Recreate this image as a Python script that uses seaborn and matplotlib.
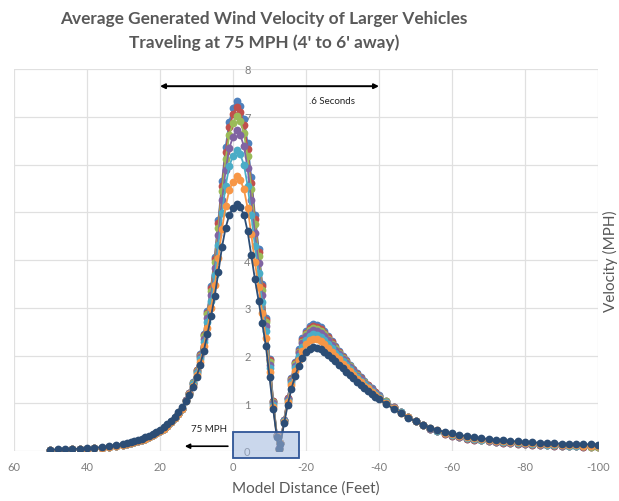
import matplotlib
matplotlib.use("Agg")
import matplotlib.pyplot as plt
import seaborn as sns
import pandas as pd
from matplotlib.patches import Rectangle

# ---------------- data ----------------
distance = (list(range(50, 31, -2)) + list(range(30, -13, -1)) + [-12.5]
            + list(range(-13, -41, -1)) + list(range(-42, -101, -2)))

s1 = [0.02, 0.025, 0.03, 0.035, 0.04, 0.05, 0.06, 0.07, 0.09, 0.11,
      0.12, 0.14, 0.16, 0.18, 0.20, 0.23, 0.26, 0.29, 0.33, 0.37, 0.42, 0.47, 0.53, 0.60, 0.69, 0.78, 0.89,
      1.06, 1.22, 1.44, 1.70, 2.04, 2.45, 2.93, 3.45, 4.07, 4.84, 5.65, 6.37,
      6.90, 7.18, 7.34, 7.23, 6.95, 6.44, 5.73, 4.95, 4.24, 3.50, 2.79, 1.92, 1.05, 0.34, 0.06,
      0.17, 0.65, 1.12, 1.52, 1.86, 2.13, 2.36, 2.52, 2.62, 2.66, 2.64, 2.59, 2.51, 2.41, 2.31, 2.20, 2.10, 1.99,
      1.90, 1.81, 1.72, 1.63, 1.54, 1.46, 1.39, 1.31, 1.24, 1.17,
      1.05, 0.93, 0.82, 0.72, 0.62, 0.54, 0.47, 0.41, 0.36, 0.32, 0.29, 0.26, 0.24, 0.22, 0.20,
      0.18, 0.17, 0.16, 0.15, 0.14, 0.13, 0.125, 0.12, 0.11, 0.105, 0.10, 0.095, 0.09, 0.09, 0.085]

s2 = [0.02, 0.025, 0.03, 0.035, 0.04, 0.05, 0.06, 0.07, 0.09, 0.11,
      0.12, 0.14, 0.16, 0.18, 0.20, 0.23, 0.26, 0.29, 0.33, 0.37, 0.42, 0.47, 0.53, 0.60, 0.69, 0.78, 0.89,
      1.06, 1.22, 1.43, 1.69, 2.02, 2.42, 2.90, 3.41, 4.02, 4.77, 5.56, 6.26,
      6.78, 7.05, 7.20, 7.09, 6.82, 6.33, 5.62, 4.86, 4.17, 3.45, 2.75, 1.90, 1.04, 0.34, 0.07,
      0.17, 0.65, 1.11, 1.50, 1.84, 2.10, 2.32, 2.48, 2.58, 2.62, 2.60, 2.55, 2.47, 2.38, 2.28, 2.18, 2.08, 1.97,
      1.88, 1.79, 1.70, 1.61, 1.52, 1.45, 1.38, 1.30, 1.23, 1.16,
      1.04, 0.92, 0.82, 0.72, 0.62, 0.54, 0.47, 0.41, 0.36, 0.32, 0.29, 0.26, 0.24, 0.22, 0.20,
      0.18, 0.17, 0.16, 0.15, 0.14, 0.13, 0.125, 0.12, 0.11, 0.105, 0.10, 0.095, 0.09, 0.085, 0.08]

s3 = [0.02, 0.025, 0.03, 0.035, 0.04, 0.05, 0.06, 0.07, 0.09, 0.11,
      0.12, 0.14, 0.16, 0.18, 0.20, 0.23, 0.26, 0.29, 0.33, 0.37, 0.42, 0.47, 0.53, 0.60, 0.69, 0.78, 0.89,
      1.06, 1.22, 1.42, 1.68, 2.00, 2.40, 2.86, 3.36, 3.95, 4.68, 5.45, 6.12,
      6.62, 6.87, 7.02, 6.91, 6.65, 6.17, 5.49, 4.75, 4.08, 3.38, 2.70, 1.86, 1.03, 0.34, 0.05,
      0.17, 0.64, 1.09, 1.48, 1.82, 2.08, 2.29, 2.45, 2.54, 2.58, 2.56, 2.51, 2.44, 2.35, 2.25, 2.15, 2.06, 1.95,
      1.86, 1.77, 1.68, 1.60, 1.51, 1.44, 1.37, 1.29, 1.22, 1.15,
      1.04, 0.92, 0.81, 0.72, 0.62, 0.54, 0.47, 0.41, 0.37, 0.33, 0.30, 0.27, 0.25, 0.23, 0.21,
      0.19, 0.18, 0.17, 0.16, 0.15, 0.14, 0.13, 0.125, 0.12, 0.11, 0.105, 0.10, 0.095, 0.09, 0.09]

s4 = [0.02, 0.025, 0.03, 0.035, 0.04, 0.05, 0.06, 0.07, 0.09, 0.11,
      0.12, 0.14, 0.16, 0.18, 0.20, 0.23, 0.26, 0.29, 0.33, 0.37, 0.42, 0.47, 0.53, 0.60, 0.69, 0.78, 0.89,
      1.06, 1.21, 1.41, 1.66, 1.97, 2.35, 2.79, 3.27, 3.84, 4.53, 5.26, 5.89,
      6.35, 6.58, 6.72, 6.62, 6.38, 5.92, 5.26, 4.56, 3.93, 3.27, 2.62, 1.81, 1.00, 0.33, 0.06,
      0.17, 0.64, 1.08, 1.47, 1.79, 2.05, 2.26, 2.41, 2.50, 2.54, 2.52, 2.47, 2.40, 2.32, 2.22, 2.12, 2.03, 1.93,
      1.84, 1.75, 1.67, 1.58, 1.50, 1.43, 1.36, 1.29, 1.21, 1.15,
      1.03, 0.92, 0.81, 0.72, 0.62, 0.54, 0.47, 0.42, 0.37, 0.33, 0.30, 0.27, 0.25, 0.23, 0.21,
      0.19, 0.18, 0.17, 0.16, 0.15, 0.14, 0.135, 0.13, 0.12, 0.115, 0.11, 0.105, 0.10, 0.10, 0.095]

s5 = [0.02, 0.025, 0.03, 0.035, 0.04, 0.05, 0.06, 0.07, 0.09, 0.11,
      0.12, 0.14, 0.16, 0.18, 0.20, 0.23, 0.26, 0.29, 0.33, 0.37, 0.42, 0.47, 0.53, 0.60, 0.69, 0.78, 0.89,
      1.05, 1.20, 1.40, 1.63, 1.92, 2.28, 2.70, 3.15, 3.68, 4.32, 4.99, 5.56,
      5.97, 6.18, 6.30, 6.21, 5.99, 5.56, 4.95, 4.30, 3.72, 3.11, 2.51, 1.74, 0.97, 0.32, 0.05,
      0.16, 0.62, 1.05, 1.43, 1.74, 1.98, 2.18, 2.33, 2.41, 2.45, 2.43, 2.39, 2.32, 2.24, 2.15, 2.06, 1.98, 1.88,
      1.80, 1.71, 1.63, 1.55, 1.47, 1.40, 1.33, 1.26, 1.20, 1.13,
      1.02, 0.91, 0.81, 0.71, 0.62, 0.54, 0.48, 0.42, 0.38, 0.34, 0.31, 0.28, 0.26, 0.24, 0.22,
      0.20, 0.19, 0.18, 0.17, 0.16, 0.15, 0.14, 0.135, 0.13, 0.12, 0.115, 0.11, 0.105, 0.105, 0.10]

s6 = [0.02, 0.025, 0.03, 0.035, 0.04, 0.05, 0.06, 0.07, 0.09, 0.11,
      0.12, 0.14, 0.16, 0.18, 0.20, 0.23, 0.26, 0.29, 0.33, 0.37, 0.42, 0.47, 0.53, 0.60, 0.69, 0.78, 0.89,
      1.05, 1.19, 1.37, 1.59, 1.86, 2.19, 2.58, 2.99, 3.47, 4.04, 4.65, 5.13,
      5.47, 5.64, 5.75, 5.67, 5.48, 5.09, 4.54, 3.96, 3.44, 2.90, 2.36, 1.65, 0.93, 0.31, 0.02,
      0.16, 0.61, 1.02, 1.38, 1.68, 1.91, 2.10, 2.24, 2.32, 2.35, 2.34, 2.30, 2.24, 2.16, 2.08, 2.00, 1.92, 1.83,
      1.75, 1.67, 1.59, 1.51, 1.44, 1.37, 1.31, 1.24, 1.18, 1.11,
      1.01, 0.90, 0.80, 0.71, 0.62, 0.54, 0.48, 0.43, 0.38, 0.35, 0.32, 0.29, 0.27, 0.25, 0.23,
      0.21, 0.20, 0.19, 0.18, 0.17, 0.16, 0.15, 0.145, 0.14, 0.13, 0.125, 0.12, 0.115, 0.11, 0.11]

s7 = [0.03, 0.035, 0.04, 0.045, 0.05, 0.06, 0.07, 0.08, 0.10, 0.12,
      0.15, 0.17, 0.19, 0.21, 0.23, 0.26, 0.29, 0.32, 0.36, 0.40, 0.45, 0.50, 0.56, 0.63, 0.72, 0.81, 0.92,
      1.04, 1.18, 1.35, 1.55, 1.80, 2.10, 2.45, 2.82, 3.25, 3.75, 4.28, 4.68,
      4.95, 5.08, 5.17, 5.10, 4.95, 4.60, 4.10, 3.60, 3.15, 2.68, 2.20, 1.55, 0.88, 0.30, 0.04,
      0.15, 0.58, 0.97, 1.30, 1.57, 1.78, 1.95, 2.07, 2.14, 2.17, 2.16, 2.13, 2.08, 2.02, 1.95, 1.88, 1.81, 1.73,
      1.66, 1.59, 1.52, 1.45, 1.38, 1.32, 1.26, 1.20, 1.14, 1.08,
      0.98, 0.88, 0.79, 0.70, 0.62, 0.55, 0.49, 0.44, 0.40, 0.37, 0.34, 0.31, 0.29, 0.27, 0.25,
      0.23, 0.22, 0.21, 0.20, 0.19, 0.18, 0.175, 0.17, 0.16, 0.155, 0.15, 0.145, 0.14, 0.14, 0.135]

series_names = ["S1", "S2", "S3", "S4", "S5", "S6", "S7"]
series_values = [s1, s2, s3, s4, s5, s6, s7]
series_colors = ["#4F81BD", "#C0504D", "#9BBB59", "#8064A2", "#4BACC6", "#F79646", "#2C4D75"]

x_ticks = [60, 40, 20, 0, -20, -40, -60, -80, -100]
y_ticks = [0, 1, 2, 3, 4, 5, 6, 7, 8]

rows = []
for name, vals in zip(series_names, series_values):
    assert len(vals) == len(distance), (name, len(vals), len(distance))
    for d, v in zip(distance, vals):
        rows.append({"distance": d, "velocity": v, "series": name})
df = pd.DataFrame(rows)

# ---------------- style ----------------
sns.set_style("white")
plt.rcParams["font.family"] = ["Lato", "DejaVu Sans"]
plt.rcParams["axes.unicode_minus"] = False

gray = "#595959"
fig = plt.figure(figsize=(6.19, 5.02), dpi=100)
ax = fig.add_axes([14 / 619, 50 / 502, 584 / 619, 382 / 502])

sns.lineplot(data=df, x="distance", y="velocity", hue="series",
             hue_order=series_names, palette=series_colors,
             marker="o", markersize=5.6, markeredgewidth=0, linewidth=1.3,
             estimator=None, sort=False, legend=False, ax=ax, zorder=3)

ax.set_xlim(60, -100)
ax.set_ylim(0, 8)
ax.set_xticks(x_ticks)
ax.set_xticklabels([str(t) for t in x_ticks])
ax.set_yticks(y_ticks)
ax.grid(True, color="#e0e0e0", linewidth=0.9)
ax.set_axisbelow(True)
for sp in ax.spines.values():
    sp.set_visible(False)

# y tick labels beside the x = 0 crossing
ax.yaxis.tick_right()
ax.spines["right"].set_position(("data", 0))
ax.tick_params(axis="y", length=0, pad=8, labelsize=8, labelcolor="#7f7f7f")
ax.tick_params(axis="x", length=0, pad=7, labelsize=8, labelcolor="#7f7f7f")

ax.set_xlabel("Model Distance (Feet)", fontsize=11, color=gray, labelpad=6)
ax.set_ylabel("Velocity (MPH)", fontsize=11, color=gray)
ax.yaxis.set_label_position("right")
ax.yaxis.label.set_rotation(90)
ax.yaxis.label.set_va("center")
ax.yaxis.label.set_ha("center")
ax.yaxis.set_label_coords((610 - 14) / 584, 0.50)

fig.text(0.426, 1 - 11 / 502,
         "Average Generated Wind Velocity of Larger Vehicles\nTraveling at 75 MPH (4' to 6' away)",
         ha="center", va="top", fontsize=12.4, fontweight="bold", color=gray, linespacing=1.55)

# annotations
ax.annotate("", xy=(20, 7.64), xytext=(-40, 7.64),
            arrowprops=dict(arrowstyle="<|-|>", color="black", lw=1.4,
                            mutation_scale=7, shrinkA=0, shrinkB=0))
ax.text(-27, 7.33, ".6 Seconds", fontsize=7, color="#222222", ha="center", va="center")
ax.text(6.6, 0.47, "75 MPH", fontsize=7, color="#222222", ha="center", va="center")
ax.annotate("", xy=(13.2, 0.1), xytext=(1.4, 0.1),
            arrowprops=dict(arrowstyle="-|>", color="black", lw=1.2,
                            mutation_scale=7, shrinkA=0, shrinkB=0), annotation_clip=False)
box = Rectangle((0, -0.15), -18, 0.55, facecolor="#9fb6dd", alpha=0.55,
                edgecolor="none", clip_on=False, zorder=5)
ax.add_patch(box)
box_edge = Rectangle((0, -0.15), -18, 0.55, facecolor="none",
                     edgecolor="#2F5597", linewidth=1.3, clip_on=False, zorder=6)
ax.add_patch(box_edge)

fig.savefig("out.png", dpi=100)
